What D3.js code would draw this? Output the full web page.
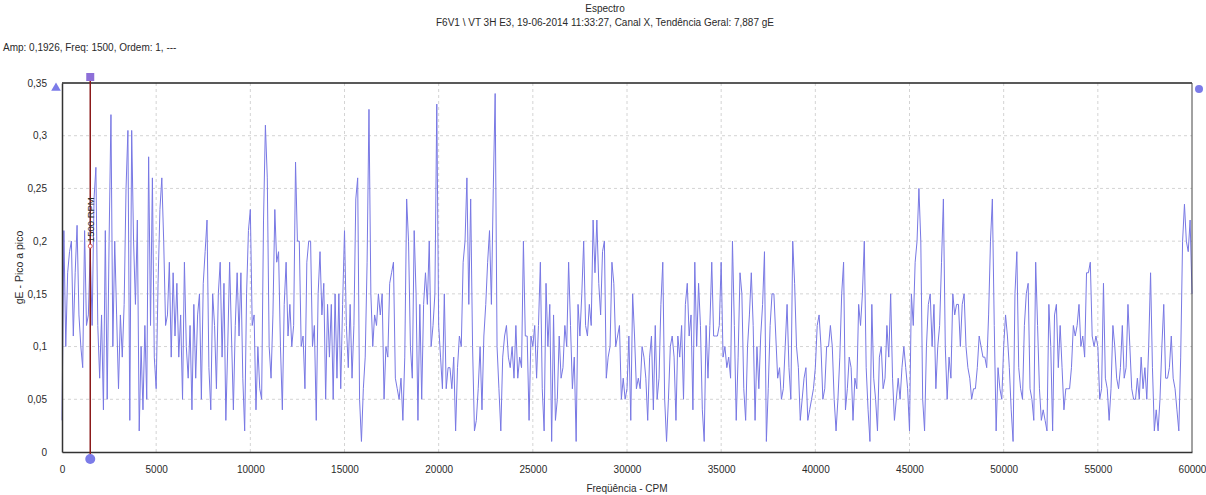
<!DOCTYPE html>
<html>
<head>
    <meta charset="utf-8">
    <title>Espectro</title>
    <script src="https://cdn.jsdelivr.net/npm/d3@7/dist/d3.min.js"></script>
    <style>
        body { margin: 0; background: #fff; }
        svg text { font-family: "Liberation Sans", Arial, sans-serif; fill: #2a2a2a; }
        .grid line { stroke: #d4d4d4; stroke-dasharray: 3,3; stroke-width: 1; }
        .axis path.domain { stroke: #333; stroke-width: 1.5; }
        .axis text { font-size: 10px; }
    </style>
</head>
<body>
<div id="chart"></div>
<script>
// spectrum bins, 100 CPM apart (0 .. 60000 CPM), amplitude in gE peak to peak
const FREQ_STEP = 100;
const ampGE = [
    0.03, 0.21, 0.10, 0.17, 0.19, 0.20, 0.11, 0.17, 0.215, 0.13,
    0.10, 0.08, 0.21, 0.12, 0.13, 0.1926, 0.12, 0.24, 0.27, 0.12,
    0.07, 0.13, 0.04, 0.21, 0.05, 0.20, 0.32, 0.10, 0.20, 0.13,
    0.06, 0.13, 0.09, 0.14, 0.25, 0.305, 0.03, 0.305, 0.20, 0.14,
    0.22, 0.02, 0.10, 0.04, 0.12, 0.05, 0.28, 0.12, 0.26, 0.09,
    0.06, 0.16, 0.23, 0.26, 0.20, 0.12, 0.13, 0.18, 0.09, 0.17,
    0.11, 0.16, 0.09, 0.13, 0.05, 0.18, 0.10, 0.07, 0.12, 0.04,
    0.14, 0.07, 0.13, 0.15, 0.05, 0.16, 0.19, 0.22, 0.08, 0.04,
    0.15, 0.12, 0.06, 0.15, 0.18, 0.09, 0.16, 0.03, 0.10, 0.18,
    0.11, 0.04, 0.12, 0.17, 0.11, 0.17, 0.07, 0.02, 0.15, 0.21,
    // 10000
    0.23, 0.12, 0.13, 0.04, 0.10, 0.06, 0.05, 0.22, 0.31, 0.26,
    0.10, 0.07, 0.13, 0.23, 0.18, 0.19, 0.10, 0.04, 0.14, 0.18,
    0.11, 0.14, 0.10, 0.12, 0.275, 0.20, 0.20, 0.10, 0.11, 0.06,
    0.18, 0.20, 0.20, 0.10, 0.12, 0.03, 0.15, 0.19, 0.13, 0.16,
    0.05, 0.14, 0.09, 0.14, 0.05, 0.15, 0.07, 0.15, 0.06, 0.14,
    0.21, 0.12, 0.08, 0.14, 0.07, 0.12, 0.24, 0.26, 0.05, 0.01,
    0.06, 0.09, 0.18, 0.325, 0.15, 0.10, 0.13, 0.12, 0.15, 0.13,
    0.15, 0.05, 0.10, 0.09, 0.16, 0.17, 0.18, 0.07, 0.06, 0.05,
    0.07, 0.03, 0.09, 0.24, 0.20, 0.10, 0.07, 0.21, 0.15, 0.03,
    0.14, 0.05, 0.14, 0.17, 0.14, 0.20, 0.10, 0.12, 0.15, 0.33,
    // 20000
    0.12, 0.09, 0.06, 0.15, 0.06, 0.08, 0.08, 0.06, 0.09, 0.02,
    0.08, 0.11, 0.10, 0.18, 0.20, 0.26, 0.14, 0.24, 0.10, 0.02,
    0.03, 0.06, 0.10, 0.04, 0.11, 0.14, 0.18, 0.21, 0.14, 0.25,
    0.34, 0.10, 0.06, 0.02, 0.09, 0.11, 0.12, 0.09, 0.08, 0.10,
    0.07, 0.12, 0.07, 0.09, 0.08, 0.20, 0.11, 0.11, 0.03, 0.11,
    0.10, 0.12, 0.07, 0.12, 0.18, 0.06, 0.02, 0.16, 0.10, 0.14,
    0.01, 0.13, 0.03, 0.05, 0.11, 0.07, 0.08, 0.12, 0.10, 0.18,
    0.12, 0.06, 0.09, 0.01, 0.14, 0.11, 0.15, 0.20, 0.12, 0.11,
    0.14, 0.12, 0.22, 0.17, 0.22, 0.16, 0.13, 0.19, 0.20, 0.07,
    0.09, 0.10, 0.18, 0.16, 0.10, 0.11, 0.12, 0.05, 0.07, 0.05,
    // 30000
    0.06, 0.11, 0.03, 0.15, 0.11, 0.06, 0.07, 0.06, 0.10, 0.09,
    0.07, 0.03, 0.09, 0.11, 0.04, 0.12, 0.05, 0.07, 0.14, 0.18,
    0.05, 0.01, 0.05, 0.10, 0.11, 0.09, 0.03, 0.11, 0.09, 0.12,
    0.05, 0.14, 0.16, 0.11, 0.13, 0.04, 0.18, 0.10, 0.16, 0.12,
    0.04, 0.01, 0.12, 0.07, 0.12, 0.18, 0.11, 0.11, 0.11, 0.12,
    0.18, 0.09, 0.10, 0.08, 0.09, 0.07, 0.20, 0.12, 0.03, 0.09,
    0.17, 0.15, 0.06, 0.03, 0.10, 0.13, 0.17, 0.12, 0.03, 0.10,
    0.06, 0.11, 0.14, 0.19, 0.01, 0.06, 0.12, 0.15, 0.15, 0.11,
    0.07, 0.08, 0.05, 0.06, 0.10, 0.14, 0.08, 0.05, 0.20, 0.16,
    0.10, 0.08, 0.03, 0.05, 0.07, 0.08, 0.03, 0.04, 0.05, 0.06,
    // 40000
    0.08, 0.12, 0.13, 0.10, 0.05, 0.06, 0.10, 0.10, 0.12, 0.10,
    0.05, 0.02, 0.05, 0.09, 0.15, 0.18, 0.04, 0.06, 0.09, 0.08,
    0.03, 0.07, 0.06, 0.14, 0.12, 0.15, 0.20, 0.08, 0.04, 0.01,
    0.14, 0.07, 0.05, 0.02, 0.09, 0.10, 0.06, 0.07, 0.12, 0.09,
    0.15, 0.07, 0.03, 0.05, 0.07, 0.05, 0.08, 0.10, 0.08, 0.06,
    0.02, 0.15, 0.12, 0.18, 0.20, 0.25, 0.20, 0.05, 0.02, 0.10,
    0.14, 0.15, 0.10, 0.14, 0.06, 0.10, 0.12, 0.18, 0.24, 0.10,
    0.05, 0.09, 0.07, 0.15, 0.13, 0.14, 0.14, 0.10, 0.14, 0.15,
    0.10, 0.08, 0.07, 0.05, 0.06, 0.06, 0.08, 0.11, 0.10, 0.09,
    0.09, 0.08, 0.13, 0.20, 0.24, 0.12, 0.02, 0.08, 0.06, 0.05,
    // 50000
    0.10, 0.13, 0.11, 0.08, 0.04, 0.01, 0.15, 0.19, 0.08, 0.06,
    0.05, 0.12, 0.15, 0.16, 0.06, 0.05, 0.03, 0.18, 0.12, 0.06,
    0.03, 0.04, 0.03, 0.02, 0.14, 0.10, 0.02, 0.13, 0.14, 0.08,
    0.12, 0.08, 0.04, 0.06, 0.06, 0.06, 0.08, 0.12, 0.11, 0.12,
    0.14, 0.10, 0.11, 0.09, 0.17, 0.17, 0.18, 0.11, 0.10, 0.11,
    0.10, 0.05, 0.06, 0.16, 0.07, 0.06, 0.03, 0.06, 0.12, 0.10,
    0.07, 0.06, 0.08, 0.12, 0.07, 0.08, 0.14, 0.10, 0.06, 0.05,
    0.05, 0.07, 0.05, 0.09, 0.06, 0.08, 0.05, 0.10, 0.17, 0.08,
    0.02, 0.04, 0.02, 0.05, 0.10, 0.14, 0.07, 0.07, 0.08, 0.11,
    0.07, 0.06, 0.04, 0.02, 0.09, 0.20, 0.235, 0.20, 0.19, 0.22,
    0.15
];
const freqCPM = ampGE.map((_, i) => i * FREQ_STEP);

const xTicks = [0, 5000, 10000, 15000, 20000, 25000, 30000, 35000, 40000, 45000, 50000, 55000, 60000];
const yTicks = [0, 0.05, 0.1, 0.15, 0.2, 0.25, 0.3, 0.35];
const yTickLabels = ["0", "0,05", "0,1", "0,15", "0,2", "0,25", "0,3", "0,35"];

const title = "Espectro";
const subtitle = "F6V1 \\ VT 3H E3, 19-06-2014 11:33:27, Canal X, Tendência Geral: 7,887 gE";
const cursorInfo = "Amp: 0,1926, Freq: 1500, Ordem: 1, ---";
const cursorFreq = 1500;
const cursorLabel = "1500 RPM";

const width = 1206, height = 495;
const margin = {top: 83, right: 14, bottom: 43, left: 62};

const svg = d3.select("#chart").append("svg")
    .attr("width", width)
    .attr("height", height);

const x = d3.scaleLinear().domain([0, 60000]).range([margin.left, width - margin.right]);
const y = d3.scaleLinear().domain([0, 0.35]).range([height - margin.bottom, margin.top]);

// dashed grid
const grid = svg.append("g").attr("class", "grid");
grid.selectAll("line.v")
    .data(xTicks.slice(1, -1))
    .enter().append("line")
    .attr("x1", d => x(d)).attr("x2", d => x(d))
    .attr("y1", y(0.35)).attr("y2", y(0));
grid.selectAll("line.h")
    .data(yTicks.slice(1, -1))
    .enter().append("line")
    .attr("x1", x(0)).attr("x2", x(60000))
    .attr("y1", d => y(d)).attr("y2", d => y(d));

// spectrum line
const line = d3.line()
    .x((d, i) => x(freqCPM[i]))
    .y(d => y(d));
svg.append("path")
    .datum(ampGE)
    .attr("fill", "none")
    .attr("stroke", "#7878e4")
    .attr("stroke-width", 1)
    .attr("d", line);

// frame top + right
svg.append("line")
    .attr("x1", x(0)).attr("x2", x(60000))
    .attr("y1", y(0.35)).attr("y2", y(0.35))
    .attr("stroke", "#222").attr("stroke-width", 1.5);
svg.append("line")
    .attr("x1", x(60000)).attr("x2", x(60000))
    .attr("y1", y(0.35)).attr("y2", y(0))
    .attr("stroke", "#444").attr("stroke-width", 1);

// axes
svg.append("g")
    .attr("class", "axis")
    .attr("transform", `translate(${x(0)},0)`)
    .call(d3.axisLeft(y).tickValues(yTicks).tickSize(0).tickPadding(15)
        .tickFormat((d, i) => yTickLabels[i]));
svg.append("g")
    .attr("class", "axis")
    .attr("transform", `translate(0,${y(0)})`)
    .call(d3.axisBottom(x).tickValues(xTicks).tickSize(0).tickPadding(14)
        .tickFormat(d => String(d)));

// titles
svg.append("text").attr("x", 605).attr("y", 12)
    .attr("text-anchor", "middle").attr("font-size", 10).text(title);
svg.append("text").attr("x", 605).attr("y", 26)
    .attr("text-anchor", "middle").attr("font-size", 10).text(subtitle);
svg.append("text").attr("x", 3).attr("y", 51)
    .attr("font-size", 10).text(cursorInfo);
svg.append("text").attr("x", 627).attr("y", 492)
    .attr("text-anchor", "middle").attr("font-size", 10).text("Freqüência - CPM");
svg.append("text")
    .attr("transform", `translate(23,${(y(0) + y(0.35)) / 2}) rotate(-90)`)
    .attr("text-anchor", "middle").attr("font-size", 10.5).text("gE - Pico a pico");

// cursor
const cx = x(cursorFreq);
svg.append("line")
    .attr("x1", cx).attr("x2", cx)
    .attr("y1", y(0.35) - 6).attr("y2", y(0) + 5)
    .attr("stroke", "#8b1a1a").attr("stroke-width", 1.5);
svg.append("rect")
    .attr("x", cx - 4).attr("y", y(0.35) - 10)
    .attr("width", 8).attr("height", 8)
    .attr("fill", "#8d6fd8");
svg.append("circle")
    .attr("cx", cx).attr("cy", y(0) + 7).attr("r", 5)
    .attr("fill", "#7b7be8");
svg.append("circle")
    .attr("cx", cx).attr("cy", y(0.2) + 5).attr("r", 2)
    .attr("fill", "#fff").attr("stroke", "#c33").attr("stroke-width", 0.8);
svg.append("text")
    .attr("transform", `translate(${cx + 3.5},${y(0.2) + 1}) rotate(-90)`)
    .attr("font-size", 9.5).attr("fill", "#111").text(cursorLabel);

// scale markers
svg.append("path")
    .attr("d", d3.symbol(d3.symbolTriangle, 40)())
    .attr("transform", `translate(56,${y(0.35) + 5})`)
    .attr("fill", "#7b7be8");
svg.append("circle")
    .attr("cx", x(60000) + 7).attr("cy", y(0.35) + 6).attr("r", 4)
    .attr("fill", "#7b7be8");
</script>
</body>
</html>
